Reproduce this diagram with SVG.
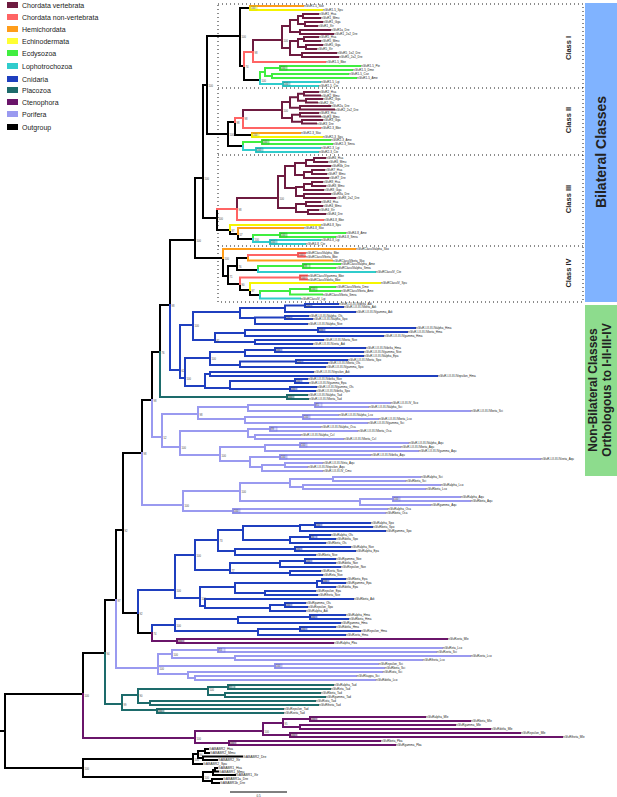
<svg xmlns="http://www.w3.org/2000/svg" width="617" height="797" viewBox="0 0 617 797">
<style>
.br path{fill:none;stroke-linecap:square;stroke-width:2}
.k{stroke:#000;stroke-width:1.5}
.cv{stroke:#6e1b40}.cn{stroke:#ff6464}.he{stroke:#ff9d1a}.ec{stroke:#f5f500;stroke-width:2.4}.ed{stroke:#40ee40}.lo{stroke:#30cccc}.cd{stroke:#1f3fbf}.pl{stroke:#1d6b6b}.ct{stroke:#6a156a}.po{stroke:#9a9af0}
.l text,text.l{font-family:"Liberation Sans",Arial,sans-serif;font-size:3px;fill:#222}
.o text{font-family:"Liberation Sans",Arial,sans-serif;font-size:3.4px;fill:#222}
.b text{font-family:"Liberation Sans",Arial,sans-serif;font-size:2.6px;fill:#444}
.bx rect{stroke-width:0.4;fill-opacity:0.35}
.lg text{font-family:"Liberation Sans",Arial,sans-serif;font-size:7px;fill:#222}
.cls{font-family:"Liberation Sans",Arial,sans-serif;font-size:7.5px;font-weight:bold;fill:#222}
.bar{font-family:"Liberation Sans",Arial,sans-serif;font-weight:bold;fill:#222;text-anchor:middle}
.dot{fill:none;stroke:#000;stroke-width:0.9;stroke-dasharray:1 3}
</style>

<g id="legend" class="lg">
<rect x="7" y="2" width="11" height="6" fill="#6e1b40"/><text x="22" y="7.5">Chordata vertebrata</text>
<rect x="7" y="14" width="11" height="6" fill="#ff6464"/><text x="22" y="19.5">Chordata non-vertebrata</text>
<rect x="7" y="26" width="11" height="6" fill="#ff9d1a"/><text x="22" y="31.5">Hemichordata</text>
<rect x="7" y="38" width="11" height="6" fill="#ffff33"/><text x="22" y="43.5">Echinodermata</text>
<rect x="7" y="50" width="11" height="6" fill="#40ee40"/><text x="22" y="55.5">Ecdysozoa</text>
<rect x="7" y="63" width="11" height="6" fill="#30cccc"/><text x="22" y="68.5">Lophotrochozoa</text>
<rect x="7" y="76" width="11" height="6" fill="#1f3fbf"/><text x="22" y="81.5">Cnidaria</text>
<rect x="7" y="87" width="11" height="6" fill="#1d6b6b"/><text x="22" y="92.5">Placozoa</text>
<rect x="7" y="99" width="11" height="6" fill="#6a156a"/><text x="22" y="104.5">Ctenophora</text>
<rect x="7" y="111" width="11" height="6" fill="#9a9af0"/><text x="22" y="116.5">Porifera</text>
<rect x="7" y="124" width="11" height="6" fill="#000"/><text x="22" y="129.5">Outgroup</text>
</g>

<g id="class-boxes">
<rect class="dot" x="218" y="4" width="365" height="298"/>
<path class="dot" d="M218 88H583M218 155H583M218 246H583"/>
<text class="cls" transform="translate(571,48) rotate(-90)" text-anchor="middle">Class I</text>
<text class="cls" transform="translate(571,120) rotate(-90)" text-anchor="middle">Class II</text>
<text class="cls" transform="translate(571,199) rotate(-90)" text-anchor="middle">Class III</text>
<text class="cls" transform="translate(571,273) rotate(-90)" text-anchor="middle">Class IV</text>
</g>

<g id="bar-bilateral">
<rect x="585" y="3" width="32" height="299" fill="#80b3ff"/>
<text class="bar" font-size="14" transform="translate(606,152) rotate(-90)">Bilateral Classes</text>
</g>
<g id="bar-nonbilateral">
<rect x="585" y="305" width="32" height="171" fill="#8ddc8d"/>
<text class="bar" font-size="12" transform="translate(597,390) rotate(-90)">Non-Bilateral Classes</text>
<text class="bar" font-size="12" transform="translate(611,390) rotate(-90)">Orthologous to I-II-III-IV</text>
</g>

<g id="connectors" class="br">
<path class="k" d="M0 731H5M5 694V768M5 694H83M5 768H83M83 653V694M83 653H105M105 600V653M105 600H116M116 530V600M116 530H123M123 453V613M123 453H142M142 400V453M142 400H152M152 352V400M152 352H160M160 305V352M160 305H170M170 240V305M170 240H195M195 178V258M195 178H203M195 258H223M203 85V218M203 85H207M203 218H217M207 36V134M207 36H240M207 134H228M123 613H138M138 613V633M138 633H152
M83 759V777M83 759H193M83 777H203M193 754V764M193 754H198M193 764H202M198 751V758M198 751H205M198 758H203M205 749V753M205 749H208M205 753H209M203 756.5V760M203 756.5H242M203 760H217M203 772V781M203 772H213M203 781H212M213 770V775M213 770H215M213 775H235M215 768V771.5M215 768H217M215 771.5H218M212 779V783M212 779H222M212 783H219
M240 8V66M240 8H250M240 66H244M244 66V80M244 80H260
M228 122V146M228 122H235M228 146H243M235 122V135M235 135H252
M217 209V230M217 230H230M230 230V234M230 234H238M238 234V239M238 239H253
M223 258V276M223 276H228M228 266V284M228 266H237M228 284H240M237 258V270M237 258H248M237 270H258M240 284V290M240 290H250M250 290V295M250 295H260"/>
<path class="cv" d="M253 40V52M253 40H282M282 26V48M282 26H290M282 48H290M290 20V32M290 20H298M290 32H300M298 16V24M298 16H303M298 24H305M303 14V18M303 14H318M303 18H320M305 22V26M305 22H322M305 26H317M300 30V34M300 30H330M300 34H333M290 41V55M290 41H298M290 55H302M298 39V47M298 39H304M298 47H306M304 37V41M304 37H318M304 41H320M306 45V49M306 45H322M306 49H316M302 53V57M302 53H336M302 57H338
M243 110V118M243 110H282M282 102V118M282 102H290M282 118H292M290 97.25V107.75M290 97.25H298M290 107.75H300M298 93.75V100.75M298 93.75H304M298 100.75H306M304 92V95.5M304 92H318M304 95.5H320M306 99V102.5M306 99H322M306 102.5H317M300 106V109.5M300 106H330M300 109.5H334M292 114.75V121.75M292 114.75H300M292 121.75H302M300 113V116.5M300 113H318M300 116.5H320M302 120V123.5M302 120H322M302 123.5H316
M237 198V209M237 198H278M278 176V208M278 176H285M278 208H296M285 166V188M285 166H295M285 188H296M295 163V175M295 163H306M295 175H304M306 160V166M306 160H314M306 166H330M314 158V162M314 158H325M314 162H327M304 172V178M304 172H312M304 178H328M312 170V174M312 170H324M312 174H326M296 187V196M296 187H304M296 196H304M304 184V190M304 184H312M304 190H323M312 182V186M312 182H322M312 186H325M304 194V198M304 194H330M304 198H335M296 204V212M296 204H306M296 212H308M306 202V206M306 202H320M306 206H322M308 210V214M308 210H318M308 214H325"/>
<path class="cn" d="M244 52V66M244 52H253M253 52V62M253 62H325M235 118V122M235 118H243M243 118V128M243 128H320M217 209H237M237 209V220M237 220H323M248 255V258M248 255H298M298 253V256.5M298 253H305M298 256.5H305M240 277.5V284M240 277.5H300M300 275.5V279.5M300 275.5H307M300 279.5H307"/>
<path class="he" d="M250 6V8M250 6H303M252 133V135M252 133H300M238 228V234M238 228H303M223 249V258M223 249H355M248 258V260.5M248 260.5H332"/>
<path class="ec" d="M250 8V10M250 10H322M252 135V137M252 137H322M230 225V230M230 225H320M250 283V290M250 283H380"/>
<path class="ed" d="M260 72V80M260 72H265M265 68V76M265 68H280M265 76H272M280 66V70M280 66H360M280 70H352M272 74V78M272 74H348M272 78H356M243 142V146M243 142H262M262 140V144M262 140H330M262 144H332M253 235V239M253 235H280M280 233V237M280 233H345M280 237H335M258 266V270M258 266H303M303 264V268M303 264H340M303 268H335M260 291V295M260 291H290M290 289V294.5M290 289H310M290 294.5H322M310 287V291M310 287H335M310 291H340"/>
<path class="lo" d="M260 80V84M260 84H283M283 82V86M283 82H320M283 86H318M243 146V150M243 150H256M256 148V152M256 148H320M256 152H318M253 239V242M253 242H270M270 240V244M270 240H320M270 244H305M258 270V272M258 272H375M260 295V298.5M260 298.5H300"/>
<path class="cd" d="M170 305V370M170 370H180M180 325V378M180 325H193M180 378H185M193 312V340M193 312H240M193 340H215M240 308V318M240 308H285M240 318H255M285 305.5V312M285 305.5H305M285 312H355M305 304V307M305 304H338M305 307H343M255 317.5V324M255 317.5H285M255 324H307M285 316V319M285 316H308M285 319H312M215 333V342M215 333H245M215 342H255M245 330V336M245 330H318M245 336H383M318 328V332M318 328H415M318 332H407M255 340V344M255 340H323M255 344H312M185 358V386M185 358H210M185 386H205M210 352V365M210 352H245M210 365H240M245 350V356M245 350H275M245 356H363M275 348V352M275 348H365M275 352H363M240 361.5V367M240 361.5H296M240 367H325M296 360V363M296 360H347M296 363H327M205 374V388M205 374H210M205 388H230M210 372V376M210 372H313M210 376H437M230 381V389M230 381H295M230 389H290M295 379V383M295 379H307M295 383H308M290 387V391M290 387H316M290 391H315
M138 590V613M138 590H175M175 555V598M175 555H195M175 598H200M195 540V570M195 540H218M195 570H230M218 530V551M218 530H243M218 551H235M243 526V540M243 526H300M243 540H290M300 525V531M300 525H315M300 531H385M315 523V527M315 523H370M315 527H372M290 537V543M290 537H310M290 543H325M310 535V539M310 535H330M310 539H335M235 549V555M235 549H295M235 555H315M295 547V551M295 547H350M295 551H355M230 563V573M230 563H280M230 573H290M280 561V567M280 561H305M280 567H340M305 559V563M305 559H335M305 563H335M290 571V575M290 571H320M290 575H322M200 587V606M200 587H235M200 606H205M235 583V593M235 583H317M235 593H265M317 581V587M317 581H322M317 587H335M322 579V583M322 579H345M322 583H345M265 591V595M265 591H315M265 595H317M205 599V608M205 599H353M205 608H270M270 605V611M270 605H285M270 611H305M285 603V607M285 603H305M285 607H307
M152 625V633M152 625H175M175 619V631M175 619H238M175 631H258M238 617V623M238 617H310M238 623H340M310 615V619M310 615H345M310 619H348M258 629V635M258 629H300M258 635H345M300 627V631M300 627H335M300 631H360"/>
<path class="pl" d="M160 352V397M160 397H287M287 395V399M287 395H307M287 399H308M105 653V704M105 704H122M122 695V710M122 695H138M122 710H157M138 689V703M138 689H208M138 703H150M208 687V695M208 687H228M208 695H225M228 685V689M228 685H333M228 689H330M225 693V697M225 693H320M225 697H325M150 701V705M150 701H315M150 705H318M157 709V713M157 709H283M157 713H283"/>
<path class="ct" d="M152 633V641M152 641H177M177 639V643M177 639H447M177 643H333M83 694V738M83 738H195M195 731V743M195 731H263M195 743H229M263 723V735M263 723H283M263 735H290M283 719V727M283 719H310M283 727H300M310 717V721M310 717H425M310 721H470M300 725V729M300 725H455M300 729H490M290 733V737M290 733H520M290 737H562M229 741V745M229 741H380M229 745H395"/>
<path class="po" d="M152 400V437M152 437H162M162 414V447M162 414H198M162 447H180M198 407V419M198 407H248M198 419H245M248 405V411M248 405H315M248 411H470M315 403V407M315 403H390M315 407H368M245 417V423M245 417H303M245 423H367M303 415V419M303 415H338M303 419H378M180 431V455M180 431H248M180 455H220M248 429V437M248 429H270M248 437H255M270 427V431M270 427H320M270 431H357M255 435V439M255 435H300M255 439H343M220 447V461M220 447H265M220 461H250M265 445V451M265 445H300M265 451H418M300 443V447M300 443H408M300 447H400M250 457V467M250 457H280M250 467H262M280 455V459M280 455H370M280 459H540M262 465V471M262 465H285M262 471H322M285 463V467M285 463H322M285 467H307
M142 453V505M142 505H183M183 491V511M183 491H240M183 511H233M240 483V501M240 483H290M240 501H360M290 479V487M290 479H333M290 487H303M333 477V481M333 477H420M333 481H405M303 485V489M303 485H440M303 489H425M360 499V505M360 499H393M360 505H430M393 497V501M393 497H460M393 501H470M233 509V513M233 509H387M233 513H385
M116 600V668M116 668H158M158 654V674M158 654H172M158 666H275M158 674H188M172 650V658M172 650H218M172 658H235M218 648V652M218 648H442M218 652H436M235 656V660M235 656H470M235 660H422M275 664V668M275 664H378M275 668H384M188 672V678M188 672H382M188 678H195M195 676V680M195 676H356M195 680H375"/>
</g>

<g id="support-boxes" class="bx">
<g fill="#ffff33" stroke="#c8c800"><rect x="250" y="6" width="7" height="4"/><rect x="252" y="133" width="7" height="4"/></g>
<g fill="#40ee40" stroke="#20a020"><rect x="280" y="66" width="7" height="4"/><rect x="262" y="140" width="7" height="4"/><rect x="280" y="233" width="7" height="4"/><rect x="303" y="264" width="7" height="4"/><rect x="310" y="287" width="7" height="4"/></g>
<g fill="#30cccc" stroke="#209090"><rect x="283" y="82" width="7" height="4"/><rect x="256" y="148" width="7" height="4"/><rect x="270" y="240" width="7" height="4"/></g>
<g fill="#ff6464" stroke="#c03030"><rect x="298" y="253" width="7" height="4"/><rect x="300" y="275.5" width="7" height="4"/></g>
<g fill="#1f3fbf" stroke="#1f3fbf"><rect x="305" y="303.5" width="7" height="4"/><rect x="318" y="328" width="7" height="4"/><rect x="285" y="315.5" width="7" height="4"/><rect x="275" y="348" width="7" height="4"/><rect x="296" y="359.5" width="7" height="4"/><rect x="295" y="379" width="7" height="4"/><rect x="290" y="387" width="7" height="4"/><rect x="315" y="523" width="7" height="4"/><rect x="310" y="535" width="7" height="4"/><rect x="295" y="547" width="7" height="4"/><rect x="305" y="559" width="7" height="4"/><rect x="322" y="579" width="7" height="4"/><rect x="285" y="603" width="7" height="4"/><rect x="310" y="615" width="7" height="4"/><rect x="300" y="627" width="7" height="4"/></g>
<g fill="#1d6b6b" stroke="#1d6b6b"><rect x="287" y="395" width="7" height="4"/><rect x="228" y="685" width="7" height="4"/><rect x="157" y="709" width="7" height="4"/></g>
<g fill="#9a9af0" stroke="#7070d0"><rect x="315" y="403" width="7" height="4"/><rect x="303" y="415" width="7" height="4"/><rect x="270" y="427" width="7" height="4"/><rect x="300" y="443" width="7" height="4"/><rect x="280" y="455" width="7" height="4"/><rect x="393" y="497" width="7" height="4"/><rect x="233" y="509" width="7" height="4"/><rect x="218" y="648" width="7" height="4"/><rect x="275" y="664" width="7" height="4"/></g>
<g fill="#6a156a" stroke="#6a156a"><rect x="177" y="639" width="7" height="4"/><rect x="310" y="717" width="7" height="4"/><rect x="290" y="733" width="7" height="4"/><rect x="229" y="741" width="7" height="4"/></g>
</g>

<g id="support-values" class="b">
<text x="251" y="9">100</text><text x="253" y="136">100</text><text x="281" y="69">100</text><text x="263" y="143">100</text><text x="281" y="236">100</text><text x="304" y="267">98</text><text x="311" y="290">100</text><text x="284" y="85">100</text><text x="257" y="151">100</text><text x="271" y="243">100</text><text x="299" y="256">100</text><text x="301" y="278.5">100</text>
<text x="306" y="306.5">100</text><text x="319" y="331">100</text><text x="286" y="318.5">100</text><text x="276" y="351">100</text><text x="297" y="362.5">100</text><text x="296" y="382">100</text><text x="291" y="390">100</text><text x="316" y="526">100</text><text x="311" y="538">56</text><text x="296" y="550">100</text><text x="306" y="562">100</text><text x="323" y="582">100</text><text x="286" y="606">100</text><text x="311" y="618">100</text><text x="301" y="630">100</text>
<text x="288" y="398">100</text><text x="229" y="688">97</text><text x="158" y="712">100</text>
<text x="316" y="406">81</text><text x="304" y="418">100</text><text x="271" y="430">99</text><text x="301" y="446">100</text><text x="281" y="458">100</text><text x="394" y="500">100</text><text x="234" y="512">100</text><text x="219" y="651">84</text><text x="276" y="667">100</text>
<text x="178" y="642">100</text><text x="311" y="720">100</text><text x="291" y="736">100</text><text x="230" y="744">100</text>
<text x="84.5" y="697">100</text><text x="106.5" y="655">94</text><text x="117.5" y="602">97</text><text x="124.5" y="532">92</text><text x="143.5" y="455">98</text><text x="153.5" y="402">98</text><text x="161.5" y="354">76</text><text x="171.5" y="307">98</text><text x="196.5" y="242">100</text><text x="204.5" y="180">100</text><text x="208.5" y="87">100</text>
<text x="241.5" y="38">100</text><text x="245.5" y="68">74</text><text x="254.5" y="54">98</text><text x="283.5" y="42">100</text><text x="261.5" y="82">100</text>
<text x="229.5" y="136">100</text><text x="236.5" y="124">98</text><text x="244.5" y="120">98</text><text x="283.5" y="112">100</text>
<text x="218.5" y="220">100</text><text x="238.5" y="211">98</text><text x="279.5" y="200">100</text><text x="231.5" y="232">97</text><text x="239.5" y="236">57</text><text x="254.5" y="241">100</text>
<text x="224.5" y="260">100</text><text x="229.5" y="278">71</text><text x="238.5" y="268">76</text><text x="241.5" y="286">90</text><text x="251.5" y="292">97</text>
<text x="181.5" y="372">62</text><text x="194.5" y="327">100</text><text x="186.5" y="380">100</text><text x="216.5" y="342">81</text><text x="211.5" y="360">100</text>
<text x="163.5" y="439">52</text><text x="199.5" y="416">98</text><text x="181.5" y="449">100</text><text x="221.5" y="457">100</text><text x="184.5" y="507">100</text><text x="241.5" y="493">100</text>
<text x="139.5" y="615">92</text><text x="176.5" y="592">100</text><text x="196.5" y="557">100</text><text x="219.5" y="542">73</text><text x="231.5" y="572">77</text><text x="201.5" y="600">100</text><text x="153.5" y="635">74</text><text x="176.5" y="627">100</text>
<text x="159.5" y="670">100</text><text x="173.5" y="656">100</text><text x="123.5" y="706">99</text><text x="139.5" y="697">90</text><text x="209.5" y="691">100</text>
<text x="196.5" y="740">100</text><text x="264.5" y="733">100</text><text x="284.5" y="725">95</text>
<text x="84.5" y="770">100</text><text x="194.5" y="761">100</text><text x="199.5" y="756">94</text><text x="204.5" y="779">100</text>
</g>

<g id="leaves-class-I" class="l">
<text x="304" y="7">nGluR1-5_Sko</text><text x="323" y="11">nGluR1-5_Spu</text><text x="319" y="15">nGluR1_Hsa</text><text x="321" y="19">nGluR1_Mmu</text><text x="323" y="23">nGluR1_Gga</text><text x="318" y="27">nGluR1_Xtr</text><text x="331" y="31">nGluR1a_Dre</text><text x="334" y="35">nGluR1_2o2_Dre</text><text x="319" y="38">nGluR5_Hsa</text><text x="321" y="42">nGluR5_Mmu</text><text x="323" y="46">nGluR5_Gga</text><text x="317" y="50">nGluR5_Xtr</text><text x="337" y="54">nGluR5_1o2_Dre</text><text x="339" y="58">nGluR5_2o2_Dre</text><text x="326" y="63">nGluR1-5_Bbe</text><text x="361" y="67">nGluR1-5_Pte</text><text x="353" y="71">nGluR1-5_Dme</text><text x="349" y="75">nGluR1-5_Cse</text><text x="357" y="79">nGluR1-5_Ame</text><text x="321" y="83">nGluR1-5_Lgi</text><text x="319" y="87">nGluR1-5_Cte</text>
</g>
<g id="leaves-class-II" class="l">
<text x="319" y="93">nGluR2_Hsa</text><text x="321" y="96.5">nGluR2_Mmu</text><text x="323" y="100">nGluR2_Gga</text><text x="318" y="103.5">nGluR2_Xtr</text><text x="331" y="107">nGluR2a_Dre</text><text x="335" y="110.5">nGluR2_2o2_Dre</text><text x="319" y="114">nGluR3_Hsa</text><text x="321" y="117.5">nGluR3_Mmu</text><text x="323" y="121">nGluR3_Gga</text><text x="317" y="124.5">nGluR3_Dre</text><text x="321" y="129">nGluR2-3_Bbe</text><text x="301" y="134">nGluR2-3_Sko</text><text x="323" y="138">nGluR2-3_Spu</text><text x="331" y="141">nGluR2-3_Ame</text><text x="333" y="145">nGluR2-3_Smra</text><text x="321" y="149">nGluR2-3_Lgi</text><text x="319" y="153">nGluR2-3_Cte</text>
</g>
<g id="leaves-class-III" class="l">
<text x="326" y="159">nGluR6_Hsa</text><text x="328" y="163">nGluR6_Mmu</text><text x="331" y="167">nGluR6b_Dre</text><text x="325" y="171">nGluR7_Hsa</text><text x="327" y="175">nGluR7_Mmu</text><text x="329" y="179">nGluR7_Dre</text><text x="323" y="183">nGluR8_Hsa</text><text x="326" y="187">nGluR8_Mmu</text><text x="324" y="191">nGluR8_Gga</text><text x="331" y="195">nGluR8a_Dre</text><text x="336" y="199">nGluR8_2o2_Dre</text><text x="321" y="203">nGluR4_Hsa</text><text x="323" y="207">nGluR4_Mmu</text><text x="319" y="211">nGluR4_Xtr</text><text x="326" y="215">nGluR4_Dre</text><text x="324" y="221">nGluR4-8_Bbe</text><text x="321" y="226">nGluR4-8_Spu</text><text x="304" y="229">nGluR4-8_Sko</text><text x="346" y="234">nGluR4-8_Ame</text><text x="336" y="238">nGluR4-8_Smra</text><text x="321" y="241">nGluR4-8_Lgi</text><text x="306" y="245">nGluR4-8_Cte</text>
</g>
<g id="leaves-class-IV" class="l">
<text x="356" y="250">nGluRClassIValpha_Sko</text><text x="306" y="254">nGluRClassIValpha_Bbe</text><text x="306" y="257.5">nGluRClassIVbeta_Bbe</text><text x="333" y="261.5">nGluRClassIVbeta_Sko</text><text x="341" y="265">nGluRClassIValpha_Ame</text><text x="336" y="269">nGluRClassIValpha_Smra</text><text x="376" y="273">nGluRClassIV_Cte</text><text x="308" y="276.5">nGluRClassIVgamma_Bbe</text><text x="308" y="280.5">nGluRClassIVdelta_Bbe</text><text x="381" y="284">nGluRClassIV_Spu</text><text x="336" y="288">nGluRClassIVbeta_Dme</text><text x="341" y="292">nGluRClassIVbeta_Ame</text><text x="323" y="295.5">nGluRClassIVbeta_Smra</text><text x="301" y="299.5">nGluRClassIV_Lgi</text>
</g>
<g id="leaves-cnidaria-1" class="l">
<text x="339" y="305">nGluR-I-II-III-IVdelta_Adi</text><text x="344" y="308">nGluR-I-II-III-IVbeta_Adi</text><text x="356" y="313">nGluR-I-II-III-IVgamma_Adi</text><text x="309" y="317">nGluR-I-II-III-IValpha_Ols</text><text x="313" y="320">nGluR-I-II-III-IValpha_Spo</text><text x="308" y="325">nGluR-I-II-III-IValpha_Nve</text><text x="416" y="329">nGluR-I-II-III-IValpha_Hma</text><text x="408" y="333">nGluR-I-II-III-IVbeta_Hma</text><text x="384" y="337">nGluR-I-II-III-IVgamma_Hma</text><text x="324" y="341">nGluR-I-II-III-IVbeta_Nve</text><text x="313" y="345">nGluR-I-II-III-IVzeta_Adi</text><text x="366" y="349">nGluR-I-II-III-IVdelta_Hma</text><text x="364" y="353">nGluR-I-II-III-IVgamma_Nve</text><text x="364" y="357">nGluR-I-II-III-IValpha_Epa</text><text x="348" y="361">nGluR-I-II-III-IVbeta_Spo</text><text x="328" y="364">nGluR-I-II-III-IVbeta_Ols</text><text x="326" y="368">nGluR-I-II-III-IVgamma_Spo</text><text x="314" y="373">nGluR-I-II-III-IVepsilon_Adi</text><text x="438" y="377">nGluR-I-II-III-IVepsilon_Hma</text><text x="308" y="380">nGluR-I-II-III-IVdelta_Nve</text><text x="309" y="384">nGluR-I-II-III-IVgamma_Epa</text><text x="317" y="388">nGluR-I-II-III-IVgamma_Ols</text><text x="316" y="392">nGluR-I-II-III-IVdelta_Spo</text><text x="308" y="396">nGluR-I-II-III-IValpha_Tad</text><text x="309" y="400">nGluR-I-II-III-IVbeta_Tad</text>
</g>
<g id="leaves-porifera-1" class="l">
<text x="391" y="404">nGluR-I-II-III-IV_Sco</text><text x="369" y="408">nGluR-I-II-III-IValpha_Sci</text><text x="471" y="412">nGluR-I-II-III-IVbeta_Sci</text><text x="339" y="416">nGluR-I-II-III-IValpha_Lco</text><text x="379" y="420">nGluR-I-II-III-IVbeta_Lco</text><text x="368" y="424">nGluR-I-II-III-IVgamma_Sci</text><text x="321" y="428">nGluR-I-II-III-IValpha_Oca</text><text x="358" y="432">nGluR-I-II-III-IVbeta_Oca</text><text x="301" y="436">nGluR-I-II-III-IValpha_Ccl</text><text x="344" y="440">nGluR-I-II-III-IVbeta_Ccl</text><text x="409" y="444">nGluR-I-II-III-IValpha_Aqu</text><text x="401" y="448">nGluR-I-II-III-IVbeta_Aqu</text><text x="419" y="452">nGluR-I-II-III-IVgamma_Aqu</text><text x="371" y="456">nGluR-I-II-III-IVdelta_Aqu</text><text x="541" y="460">nGluR-I-II-III-IVzeta_Aqu</text><text x="323" y="464">nGluR-I-II-III-IVeta_Aqu</text><text x="308" y="468">nGluR-I-II-III-IVepsilon_Aqu</text><text x="323" y="472">nGluR-I-II-III-IV_Cmu</text>
<text x="421" y="478">nGluRalpha_Sci</text><text x="406" y="482">nGluRbeta_Sci</text><text x="441" y="486">nGluRalpha_Lco</text><text x="426" y="490">nGluRbeta_Lco</text><text x="461" y="498">nGluRalpha_Aqu</text><text x="471" y="502">nGluRbeta_Aqu</text><text x="431" y="506">nGluRgamma_Aqu</text><text x="388" y="510">nGluRalpha_Oca</text><text x="386" y="514">nGluRbeta_Oca</text>
</g>
<g id="leaves-cnidaria-2" class="l">
<text x="371" y="524">nGluRalpha_Spo</text><text x="373" y="528">nGluRbeta_Spo</text><text x="386" y="532">nGluRgamma_Spo</text><text x="331" y="536">nGluRalpha_Ols</text><text x="336" y="540">nGluRdelta_Spo</text><text x="326" y="544">nGluRbeta_Ols</text><text x="351" y="548">nGluRalpha_Nve</text><text x="356" y="552">nGluRalpha_Epa</text><text x="316" y="556">nGluRbeta_Nve</text><text x="336" y="560">nGluRgamma_Nve</text><text x="336" y="564">nGluRdelta_Nve</text><text x="341" y="568">nGluRepsilon_Nve</text><text x="321" y="572">nGluRzeta_Nve</text><text x="323" y="576">nGluReta_Nve</text><text x="346" y="580">nGluRbeta_Epa</text><text x="346" y="584">nGluRgamma_Epa</text><text x="336" y="588">nGluRdelta_Epa</text><text x="316" y="592">nGluRepsilon_Epa</text><text x="318" y="596">nGluRtheta_Nve</text><text x="354" y="600">nGluRbeta_Adi</text><text x="306" y="604">nGluRgamma_Ols</text><text x="308" y="608">nGluRepsilon_Spo</text><text x="306" y="612">nGluRalpha_Adi</text><text x="346" y="616">nGluRalpha_Hma</text><text x="349" y="620">nGluRbeta_Hma</text><text x="341" y="624">nGluRgamma_Hma</text><text x="336" y="628">nGluRdelta_Hma</text><text x="361" y="632">nGluRepsilon_Hma</text><text x="346" y="636">nGluRzeta_Hma</text><text x="448" y="640">nGluRzeta_Mle</text><text x="334" y="644">nGluRalpha_Pba</text>
</g>
<g id="leaves-porifera-2" class="l">
<text x="443" y="649">nGluReta_Lco</text><text x="437" y="653">nGluRzeta_Sci</text><text x="471" y="657">nGluRzeta_Lco</text><text x="423" y="661">nGluRtheta_Lco</text><text x="379" y="665">nGluRepsilon_Sci</text><text x="385" y="669">nGluRbeta_Sci</text><text x="383" y="673">nGluRiota_Sci</text><text x="357" y="677">nGluRkappa_Sci</text><text x="376" y="681">nGluRdelta_Lco</text>
</g>
<g id="leaves-placozoa" class="l">
<text x="334" y="686">nGluRalpha_Tad</text><text x="331" y="690">nGluReta_Tad</text><text x="321" y="694">nGluRbeta_Tad</text><text x="326" y="698">nGluRgamma_Tad</text><text x="316" y="702">nGluRiota_Tad</text><text x="319" y="706">nGluRtheta_Tad</text><text x="284" y="710">nGluRepsilon_Tad</text><text x="284" y="714">nGluRzeta_Tad</text>
</g>
<g id="leaves-ctenophora" class="l">
<text x="426" y="718">nGluRalpha_Mle</text><text x="471" y="722">nGluRbeta_Mle</text><text x="456" y="726">nGluRgamma_Mle</text><text x="491" y="730">nGluRdelta_Mle</text><text x="521" y="734">nGluRepsilon_Mle</text><text x="563" y="738">nGluRtheta_Mle</text><text x="381" y="742">nGluRbeta_Pba</text><text x="396" y="746">nGluRgamma_Pba</text>
</g>
<g id="leaves-outgroup" class="o">
<text x="209" y="750">GABABR2_Hsa</text><text x="210" y="754">GABABR2_Mmu</text><text x="243" y="757.5">GABABR2_Dre</text><text x="218" y="761">GABABR2_Xtr</text><text x="203" y="765">GABABR2_Spu</text><text x="218" y="769">GABABR1_Hsa</text><text x="219" y="772.5">GABABR1_Mmu</text><text x="236" y="776">GABABR1_Xtr</text><text x="223" y="780">GABABR1a_Dre</text><text x="220" y="784">GABABR1b_Dre</text>
</g>

<g id="scale-bar">
<path d="M230 792H287" stroke="#000" stroke-width="1" fill="none"/>
<text class="l" x="258.5" y="796.5" text-anchor="middle">0.5</text>
</g>
</svg>
